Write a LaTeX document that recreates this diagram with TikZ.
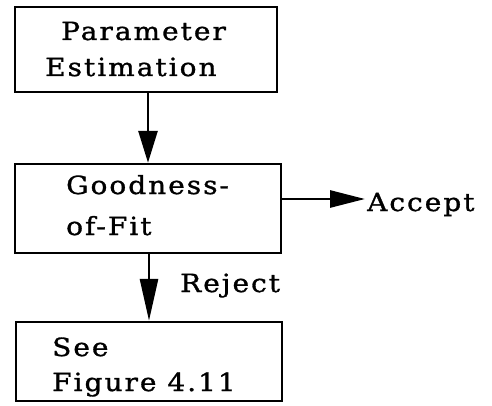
\documentclass[tikz,border=0pt]{standalone}
\usepackage{fontspec}
\setmainfont{DejaVu Serif}[LetterSpace=8,FakeStretch=1.12,FakeBold=1.2]
\usetikzlibrary{arrows.meta}
\begin{document}
\begin{tikzpicture}[x=1pt,y=-1pt,
  boxstyle/.style={draw,line width=2.4pt,inner sep=0pt},
  txt/.style={font=\fontsize{25}{34}\selectfont,inner sep=0pt,anchor=base west},
  conn/.style={line width=2.8pt}]
\useasboundingbox (0,0) rectangle (492,406);
% boxes
\node[boxstyle,minimum width=262pt,minimum height=85pt] (pe) at (146,49.5) {};
\node[boxstyle,minimum width=266pt,minimum height=89pt] (gf) at (148,208.5) {};
\node[boxstyle,minimum width=266pt,minimum height=79pt] (sf) at (149,361.5) {};
% texts
\node[txt] (t1) at (61,40) {Parameter};
\node[txt] (t2) at (45,76) {Estimation};
\node[txt] (t3) at (66,194) {Goodness-};
\node[txt] (t4) at (66,235) {of-Fit};
\node[txt] (t5) at (52,356) {See};
\node[txt] (t6) at (52,391) {Figure 4.11};
\node[txt] (acc) at (367,211) {Accept};
\node[txt] (rej) at (180,292) {Reject};
\coordinate (accin) at (365,199);
% connectors
\draw[conn,-{Triangle[length=32pt,width=19pt]}] (pe.south -| 148,0) -- (gf.north -| 148,0);
\draw[conn,-{Triangle[length=35pt,width=17pt]}] (gf.east |- 0,199) -- (accin);
\draw[conn,-{Triangle[length=42pt,width=18pt]}] (gf.south -| 149,0) -- (sf.north -| 149,0);
\end{tikzpicture}
\end{document}
